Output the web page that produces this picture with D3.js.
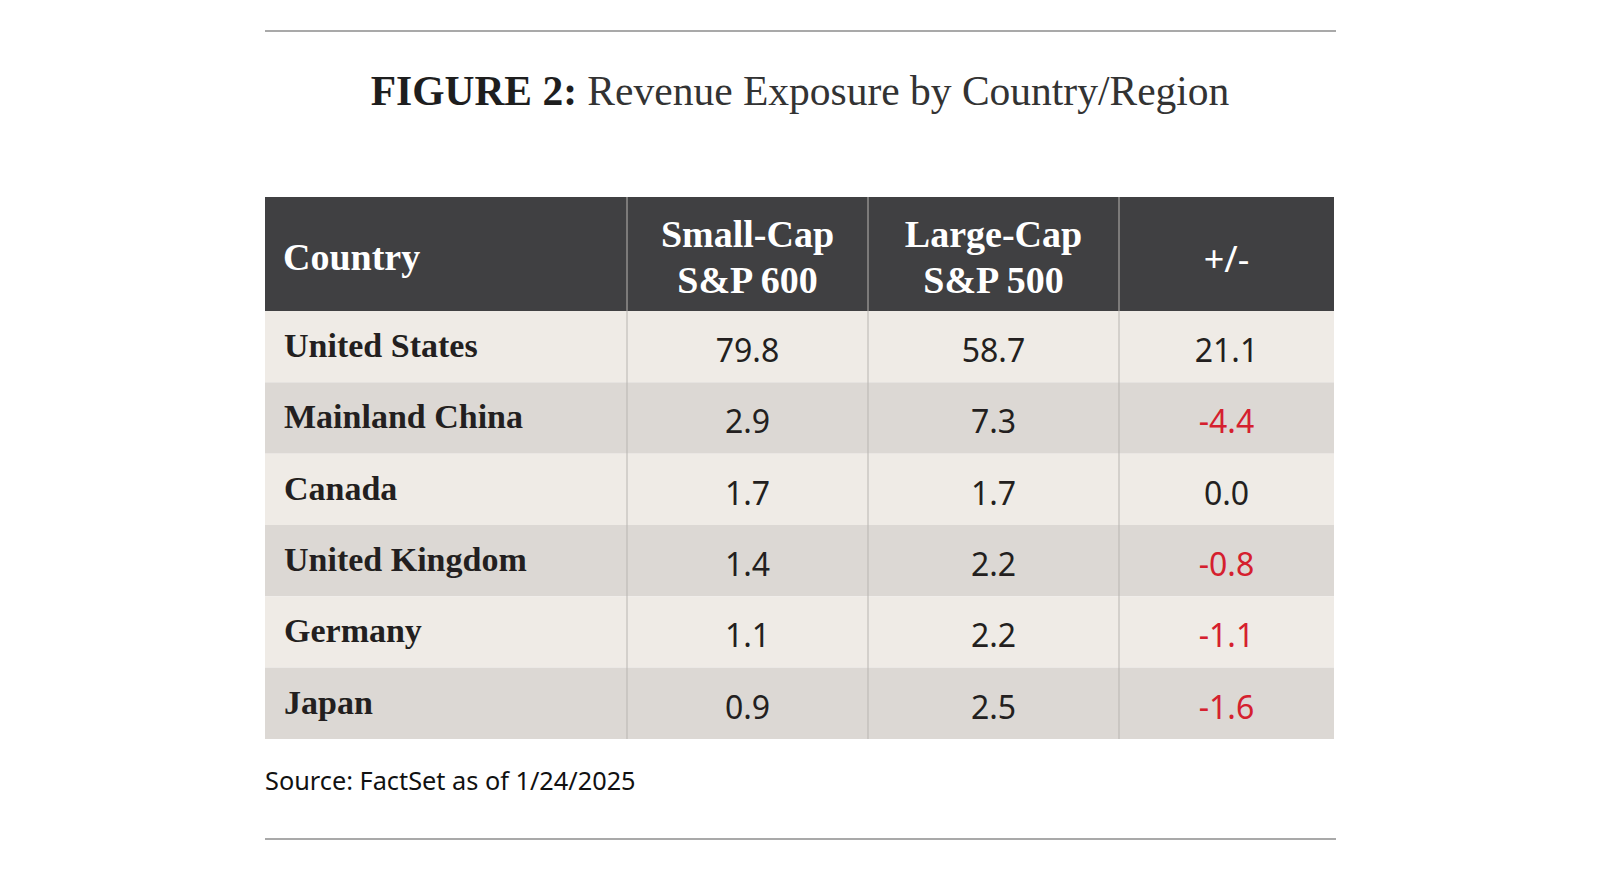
<!DOCTYPE html>
<html>
<head>
<meta charset="utf-8">
<script src="https://cdn.jsdelivr.net/npm/d3@7"></script>
<style>
  body { margin: 0; background: #fff; }
  svg { display: block; }
</style>
</head>
<body>
<div id="chart"></div>
<script>
// data
const countries = ["United States", "Mainland China", "Canada", "United Kingdom", "Germany", "Japan"];
const smallCap = [79.8, 2.9, 1.7, 1.4, 1.1, 0.9];
const largeCap = [58.7, 7.3, 1.7, 2.2, 2.2, 2.5];
const diff = [21.1, -4.4, 0.0, -0.8, -1.1, -1.6];
const headers = [["Country"], ["Small-Cap", "S&P 600"], ["Large-Cap", "S&P 500"], ["+/-"]];

const W = 1600, H = 870;
const serif = "'Liberation Serif', 'DejaVu Serif', serif";
const sans = "'Noto Sans', 'Open Sans', sans-serif";

let svg = d3.select("#chart")
  .append("svg")
    .attr("width", W)
    .attr("height", H);

let left = 265, right = 1334;
let headTop = 197, headBottom = 311, tableBottom = 739;

// columns: edges of the 4 columns
let colEdges = [left, 627, 868, 1119, right];
let colMid = i => (colEdges[i] + colEdges[i + 1]) / 2;

let y = d3.scaleBand()
  .domain(countries)
  .range([headBottom, tableBottom]);

// rules top / bottom
svg.append("line")
  .attr("x1", left).attr("x2", 1336)
  .attr("y1", 31).attr("y2", 31)
  .attr("stroke", "#8c8c8c").attr("stroke-width", 1.5);
svg.append("line")
  .attr("x1", left).attr("x2", 1336)
  .attr("y1", 839).attr("y2", 839)
  .attr("stroke", "#8c8c8c").attr("stroke-width", 1.5);

// title
let title = svg.append("text")
  .attr("x", W / 2)
  .attr("y", 105)
  .attr("text-anchor", "middle")
  .style("font-family", serif)
  .style("font-size", "41.5px");
title.append("tspan")
  .attr("font-weight", "bold")
  .attr("fill", "#1e1e1e")
  .text("FIGURE 2: ");
title.append("tspan")
  .attr("fill", "#333")
  .text("Revenue Exposure by Country/Region");

// header
svg.append("rect")
  .attr("x", left).attr("y", headTop)
  .attr("width", right - left).attr("height", headBottom - headTop)
  .attr("fill", "#404042");

// rows
svg.selectAll(".row")
  .data(countries)
  .enter().append("rect")
  .attr("class", "row")
  .attr("x", left)
  .attr("y", d => y(d))
  .attr("width", right - left)
  .attr("height", y.bandwidth())
  .attr("fill", (d, i) => i % 2 == 0 ? "#efebe6" : "#dcd8d4");

// column dividers
svg.selectAll(".div")
  .data(colEdges.slice(1, 4))
  .enter().append("line")
  .attr("x1", d => d).attr("x2", d => d)
  .attr("y1", headTop).attr("y2", tableBottom)
  .attr("stroke", "#b8b5b1")
  .attr("stroke-width", 1);

// header text
headers.forEach((lines, i) => {
  let t = svg.append("text")
    .attr("fill", "#fff")
    .style("font-size", "38px");
  if (i == 0) {
    t.attr("x", 283).attr("y", 270)
      .style("font-family", serif).attr("font-weight", "bold").text(lines[0]);
  } else if (lines.length == 1) {
    t.attr("x", colMid(i)).attr("y", 272).attr("text-anchor", "middle")
      .style("font-family", sans).style("font-size", "36px").text(lines[0]);
  } else {
    t.attr("text-anchor", "middle")
      .style("font-family", serif).attr("font-weight", "bold");
    lines.forEach((l, j) => {
      t.append("tspan")
        .attr("x", colMid(i))
        .attr("y", 247 + j * 46)
        .text(l);
    });
  }
});

// country names
svg.selectAll(".country")
  .data(countries)
  .enter().append("text")
  .attr("class", "country")
  .attr("x", 284)
  .attr("y", d => y(d) + 46)
  .attr("fill", "#231f20")
  .attr("font-weight", "bold")
  .style("font-family", serif)
  .style("font-size", "34px")
  .text(d => d);

// values
let series = [smallCap, largeCap, diff];
series.forEach((vals, s) => {
  svg.selectAll(".val" + s)
    .data(vals)
    .enter().append("text")
    .attr("class", "val" + s)
    .attr("x", colMid(s + 1))
    .attr("y", (d, i) => y(countries[i]) + 51)
    .attr("text-anchor", "middle")
    .attr("fill", d => (s == 2 && d < 0) ? "#d5202e" : "#231f20")
    .style("font-family", sans)
    .style("font-size", "32px")
    .text(d => d.toFixed(1));
});

// source
svg.append("text")
  .attr("x", left)
  .attr("y", 790)
  .attr("fill", "#111")
  .style("font-family", sans)
  .style("font-size", "25.3px")
  .text("Source: FactSet as of 1/24/2025");
</script>
</body>
</html>
